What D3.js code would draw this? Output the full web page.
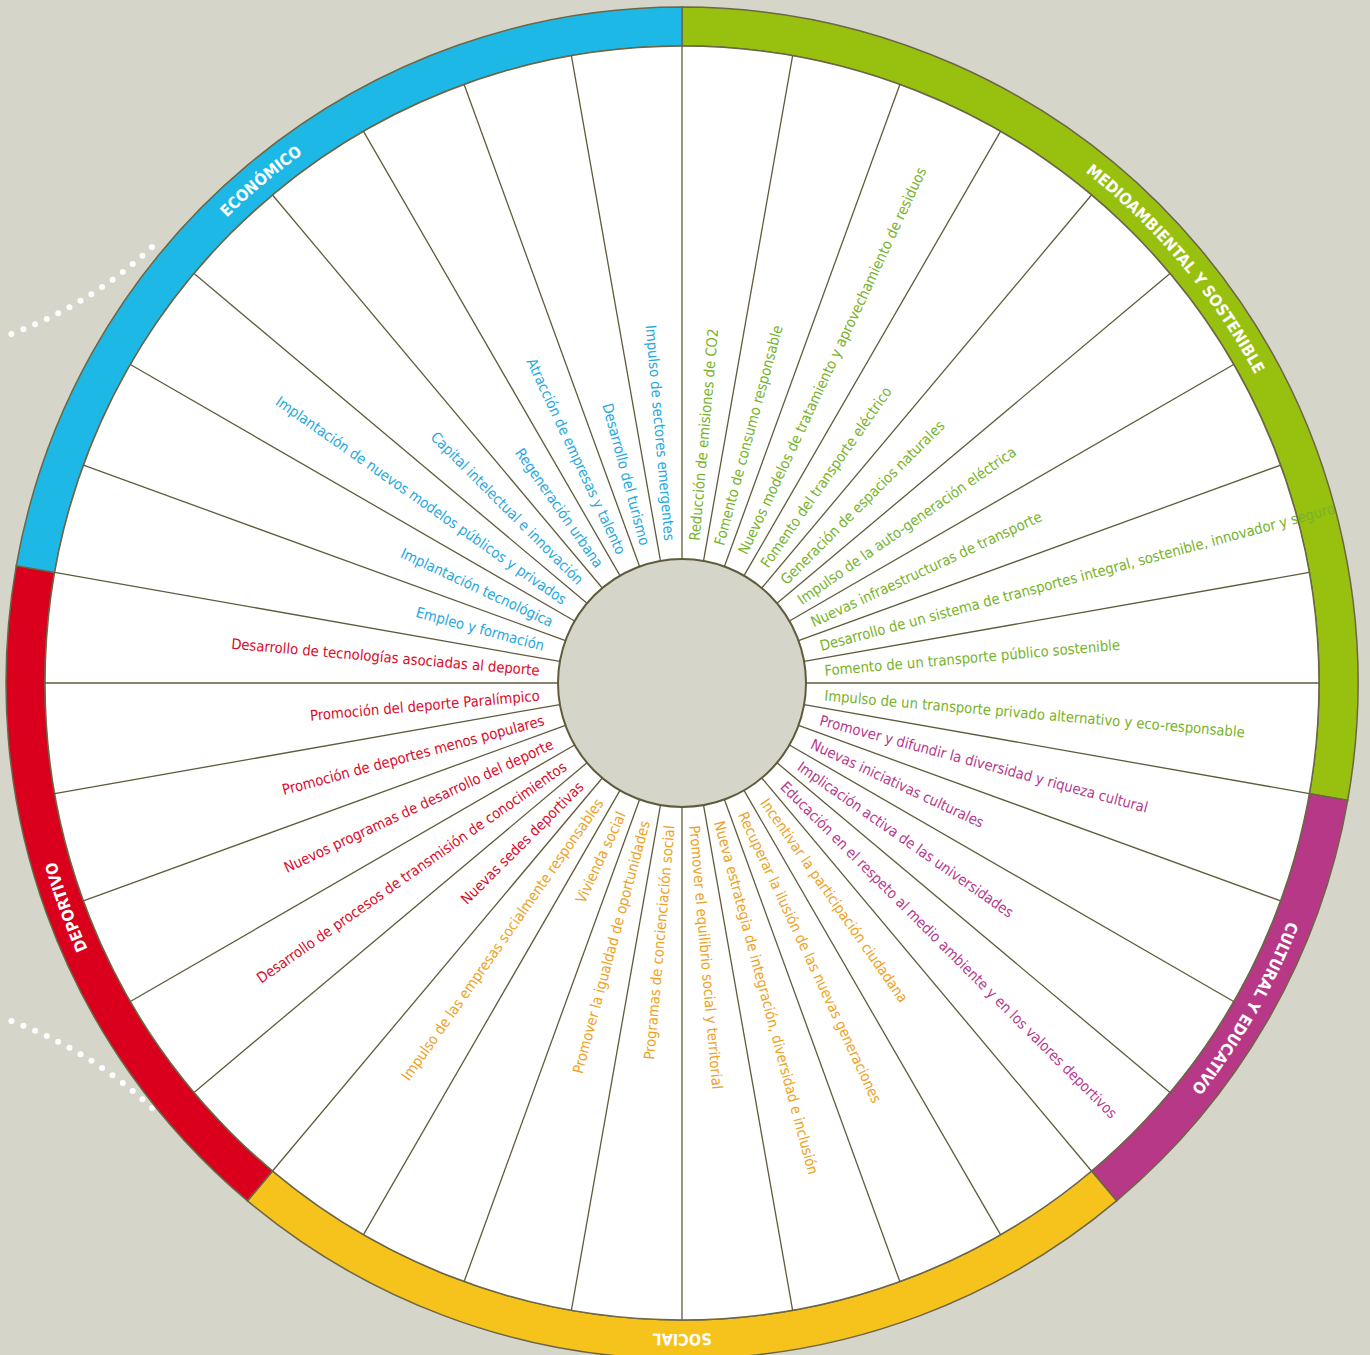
<!DOCTYPE html>
<html>
<head>
<meta charset="utf-8">
<script src="https://cdn.jsdelivr.net/npm/d3@7"></script>
<style>
  html, body { margin: 0; padding: 0; background: #d6d5ca; }
  svg { display: block; }
  .lbl { font-family: "DejaVu Sans Condensed", "Roboto", sans-serif; font-size: 14.7px; }
  .ring-lbl { font-family: "DejaVu Sans Condensed", "Roboto", sans-serif; font-size: 16px; font-weight: bold; fill: #fff; }
</style>
</head>
<body>
<svg id="chart"></svg>
<script>
// grupos, en sentido horario empezando arriba (0 grados)
const groups = ['MEDIOAMBIENTAL Y SOSTENIBLE', 'CULTURAL Y EDUCATIVO', 'SOCIAL', 'DEPORTIVO', 'ECONÓMICO']
const ringColors = ['#97c00f', '#b83888', '#f6c21c', '#da001d', '#1eb8e7']
const textColors = ['#77b32a', '#b53a8c', '#eea21e', '#dc0a2a', '#1fa9de']

const medioambiental = [
  'Reducción de emisiones de CO2',
  'Fomento de consumo responsable',
  'Nuevos modelos de tratamiento y aprovechamiento de residuos',
  'Fomento del transporte eléctrico',
  'Generación de espacios naturales',
  'Impulso de la auto-generación eléctrica',
  'Nuevas infraestructuras de transporte',
  'Desarrollo de un sistema de transportes integral, sostenible, innovador y seguro',
  'Fomento de un transporte público sostenible',
  'Impulso de un transporte privado alternativo y eco-responsable'
]
const cultural = [
  'Promover y difundir la diversidad y riqueza cultural',
  'Nuevas iniciativas culturales',
  'Implicación activa de las universidades',
  'Educación en el respeto al medio ambiente y en los valores deportivos'
]
const social = [
  'Incentivar la participación ciudadana',
  'Recuperar la ilusión de las nuevas generaciones',
  'Nueva estrategia de integración, diversidad e inclusión',
  'Promover el equilibrio social y territorial',
  'Programas de concienciación social',
  'Promover la igualdad de oportunidades',
  'Vivienda social',
  'Impulso de las empresas socialmente responsables'
]
const deportivo = [
  'Nuevas sedes deportivas',
  'Desarrollo de procesos de transmisión de conocimientos',
  'Nuevos programas de desarrollo del deporte',
  'Promoción de deportes menos populares',
  'Promoción del deporte Paralímpico',
  'Desarrollo de tecnologías asociadas al deporte'
]
const economico = [
  'Empleo y formación',
  'Implantación tecnológica',
  'Implantación de nuevos modelos públicos y privados',
  'Capital intelectual e innovación',
  'Regeneración urbana',
  'Atracción de empresas y talento',
  'Desarrollo del turismo',
  'Impulso de sectores emergentes'
]
const groupItems = [medioambiental, cultural, social, deportivo, economico]

const width = 1370, height = 1355
const cx = 682, cy = 683
const rInner = 124, rWhite = 637, rOuter = 676
const labelR = 143

const svg = d3.select('#chart').attr('width', width).attr('height', height)
svg.append('rect').attr('width', width).attr('height', height).attr('fill', '#d6d5ca')

// curvas punteadas decorativas a la izquierda
const dots = svg.append('g').attr('fill', 'none').attr('stroke', '#fff')
    .attr('stroke-width', 6).attr('stroke-linecap', 'round').attr('stroke-dasharray', '0 12.8')
dots.append('path').attr('d', 'M152,247 Q86.5,308 3,337')
dots.append('path').attr('d', 'M152,1108 Q86.5,1047 3,1018')

// lista plana de items con su grupo
const items = []
groupItems.forEach((arr, g) => arr.forEach(t => items.push({ text: t, group: g })))
const n = items.length

const angle = d3.scaleLinear().domain([0, n]).range([0, 2 * Math.PI])

// rangos de cada grupo
let acc = 0
const groupData = groupItems.map((arr, g) => {
  const d = { name: groups[g], g: g, start: acc, end: acc + arr.length }
  acc += arr.length
  return d
})

const chart = svg.append('g').attr('transform', `translate(${cx},${cy})`)

// anillo de colores
const ringArc = d3.arc().innerRadius(rWhite).outerRadius(rOuter)
chart.selectAll('.ring')
  .data(groupData)
  .join('path')
  .attr('class', 'ring')
  .attr('d', d => ringArc({ startAngle: angle(d.start), endAngle: angle(d.end) }))
  .attr('fill', d => ringColors[d.g])
  .attr('stroke', '#6b6645')
  .attr('stroke-width', 1.5)

// disco blanco
chart.append('circle').attr('r', rWhite).attr('fill', '#fff').attr('stroke', '#6b6645').attr('stroke-width', 1.5)

// radios
chart.selectAll('.spoke')
  .data(d3.range(n))
  .join('line')
  .attr('class', 'spoke')
  .attr('x1', i => rInner * Math.sin(angle(i)))
  .attr('y1', i => -rInner * Math.cos(angle(i)))
  .attr('x2', i => rWhite * Math.sin(angle(i)))
  .attr('y2', i => -rWhite * Math.cos(angle(i)))
  .attr('stroke', '#605b3b')
  .attr('stroke-width', 1.3)

// circulo central
chart.append('circle').attr('r', rInner).attr('fill', '#d6d5ca').attr('stroke', '#605b3b').attr('stroke-width', 2)

// etiquetas radiales
chart.selectAll('.lbl')
  .data(items)
  .join('text')
  .attr('class', 'lbl')
  .attr('transform', (d, i) => {
    const deg = angle(i + 0.5) * 180 / Math.PI
    if (deg < 180) return `rotate(${deg - 90}) translate(${labelR},0)`
    return `rotate(${deg - 90}) translate(${labelR},0) rotate(180)`
  })
  .attr('text-anchor', (d, i) => angle(i + 0.5) < Math.PI ? 'start' : 'end')
  .attr('dy', '0.35em')
  .attr('fill', d => textColors[d.group])
  .text(d => d.text)

// textos del anillo sobre arcos
const ringTextR = 651
const defs = svg.append('defs')
groupData.forEach(d => {
  const a0 = angle(d.start), a1 = angle(d.end)
  const p0 = [cx + ringTextR * Math.sin(a0), cy - ringTextR * Math.cos(a0)]
  const p1 = [cx + ringTextR * Math.sin(a1), cy - ringTextR * Math.cos(a1)]
  const large = (a1 - a0) > Math.PI ? 1 : 0
  defs.append('path')
    .attr('id', 'ringPath' + d.g)
    .attr('d', `M${p0[0]},${p0[1]} A${ringTextR},${ringTextR} 0 ${large} 1 ${p1[0]},${p1[1]}`)
})
svg.selectAll('.ring-lbl')
  .data(groupData)
  .join('text')
  .attr('class', 'ring-lbl')
  .append('textPath')
  .attr('href', d => '#ringPath' + d.g)
  .attr('startOffset', '50%')
  .attr('text-anchor', 'middle')
  .text(d => d.name)
</script>
</body>
</html>
